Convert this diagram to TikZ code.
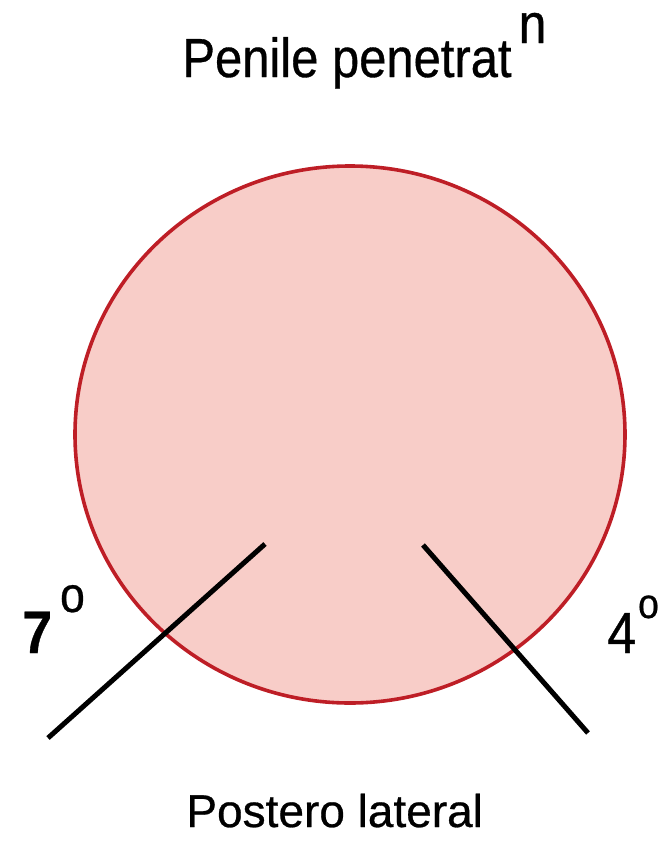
\documentclass[tikz,border=0pt]{standalone}
\usepackage{fontspec}
\setmainfont[FakeBold=0.6]{Liberation Sans}
\newfontfamily\narrowfont[FakeStretch=0.89,FakeBold=0.6]{Liberation Sans}
\usepackage{tikz}
\definecolor{discfill}{RGB}{248,205,200}
\definecolor{discedge}{RGB}{190,30,38}

\begin{document}
\begin{tikzpicture}[x=0.5pt, y=-0.5pt,
    disc/.style={draw=discedge, fill=discfill, line width=1.8pt},
    cut/.style={draw=black, line width=2.5pt},
    lbl/.style={anchor=base west, inner sep=0pt}]
    \useasboundingbox (0,0) rectangle (662,852);
    \draw[disc] (350,434.5) ellipse [x radius=275, y radius=268.5];
    \coordinate (lefttop) at (265,544);
    \coordinate (leftend) at (48,738);
    \coordinate (righttop) at (423,545);
    \coordinate (rightend) at (588,733);
    \draw[cut] (lefttop) -- (leftend);
    \draw[cut] (righttop) -- (rightend);
    \node[lbl, font=\narrowfont\fontsize{27.5}{30}\selectfont] (title) at (182,77)
        {Penile penetrat\hspace{3.5pt}\raisebox{17pt}{\fontsize{28}{30}\selectfont n}};
    \node[lbl, font=\narrowfont\fontsize{30}{32}\selectfont] (leftangle) at (22,653)
        {\bfseries 7\hspace{4pt}\raisebox{20.5pt}{\mdseries\fontsize{25}{25}\selectfont o}};
    \node[lbl, font=\narrowfont\fontsize{29}{32}\selectfont] (rightangle) at (607,653)
        {4\hspace{1pt}\raisebox{17.5pt}{\fontsize{21}{21}\selectfont o}};
    \node[lbl, font=\fontsize{23}{26}\selectfont] (bottom) at (186,827) {Postero lateral};
\end{tikzpicture}
\end{document}
